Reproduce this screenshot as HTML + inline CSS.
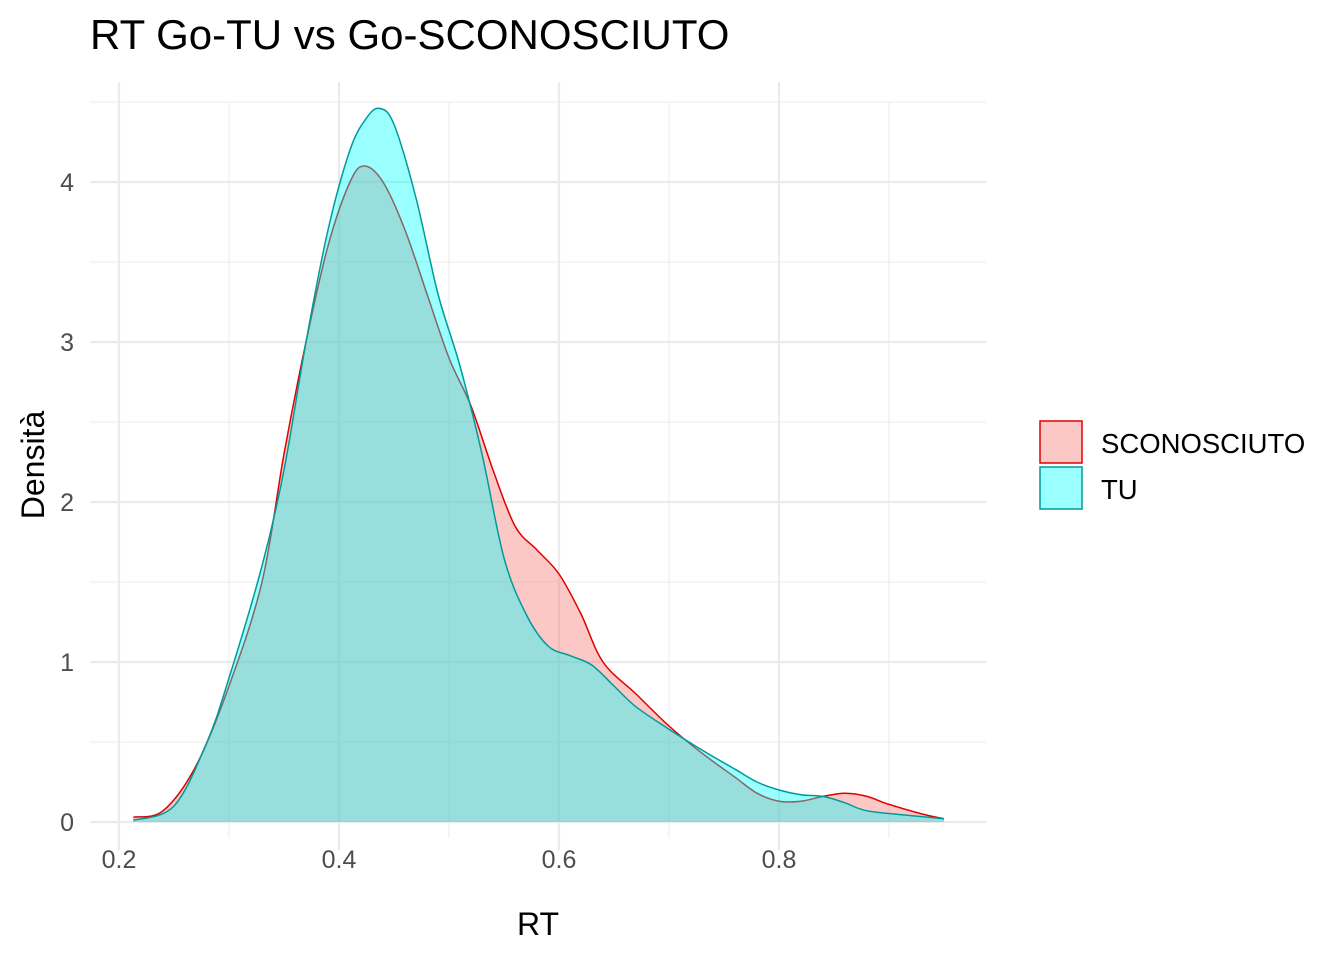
<!DOCTYPE html>
<html><head><meta charset="utf-8"><style>
body{margin:0;background:#fff;}
svg text{font-family:"Liberation Sans",sans-serif;}
</style></head><body>
<svg id="chart" width="1344" height="960" xmlns="http://www.w3.org/2000/svg">
<rect width="1344" height="960" fill="#fff"/>
<g id="grid"></g>
<g id="series"></g>
<g id="axes"></g>
<text x="90" y="49" font-size="42" fill="#000">RT Go-TU vs Go-SCONOSCIUTO</text>
<text x="538" y="935" font-size="32" text-anchor="middle">RT</text>
<text transform="translate(44,465) rotate(-90)" font-size="32" text-anchor="middle">Densità</text>
<g>
<rect x="1040" y="421" width="42" height="42" fill="#F8766D" fill-opacity="0.4" stroke="#E00000" stroke-width="1.5"/>
<text x="1101" y="453" font-size="27.5">SCONOSCIUTO</text>
<rect x="1040" y="467" width="42" height="42" fill="#00FFFF" fill-opacity="0.4" stroke="#009A9A" stroke-width="1.5"/>
<text x="1101" y="499" font-size="27.5">TU</text>
</g>
</svg>
<script>
const xTicks=[0.2,0.4,0.6,0.8];
const yTicks=[0,1,2,3,4];
const sconX=[0.213,0.24,0.27,0.30,0.33,0.35,0.37,0.39,0.41,0.423,0.44,0.46,0.48,0.50,0.52,0.54,0.56,0.58,0.60,0.62,0.64,0.67,0.70,0.73,0.76,0.78,0.80,0.82,0.84,0.86,0.88,0.90,0.93,0.95];
const sconY=[0.03,0.07,0.35,0.85,1.5,2.3,3.0,3.6,4.0,4.1,4.0,3.7,3.3,2.9,2.6,2.2,1.85,1.7,1.55,1.3,1.0,0.8,0.6,0.43,0.28,0.18,0.13,0.13,0.16,0.18,0.16,0.11,0.05,0.02];
const tuX=[0.213,0.25,0.28,0.30,0.33,0.35,0.37,0.39,0.41,0.425,0.437,0.45,0.47,0.49,0.51,0.53,0.55,0.57,0.59,0.61,0.63,0.65,0.67,0.70,0.73,0.76,0.78,0.80,0.82,0.84,0.86,0.88,0.92,0.95];
const tuY=[0.01,0.1,0.5,0.9,1.6,2.2,3.0,3.7,4.2,4.4,4.46,4.36,3.9,3.3,2.85,2.3,1.65,1.3,1.1,1.04,0.98,0.85,0.72,0.58,0.45,0.33,0.25,0.2,0.17,0.16,0.12,0.07,0.04,0.02];
const sx=v=>119+(v-0.2)*1100;
const sy=v=>822-v*160;
const NS="http://www.w3.org/2000/svg";
function mk(tag,attrs,parent){const e=document.createElementNS(NS,tag);for(const k in attrs)e.setAttribute(k,attrs[k]);parent.appendChild(e);return e;}
const grid=document.getElementById('grid'),axes=document.getElementById('axes'),ser=document.getElementById('series');
const L=90,R=986,T=102,B=822;
for(let i=0;i<xTicks.length;i++){const v=xTicks[i]+0.1;const gl=mk('line',{x1:sx(v),x2:sx(v),y1:T,y2:B+16,stroke:'#EBEBEB','stroke-width':1},grid);
}
for(const v of [0.5,1.5,2.5,3.5,4.5]){const gl=mk('line',{x1:L,x2:R,y1:sy(v),y2:sy(v),stroke:'#EBEBEB','stroke-width':1},grid);
}
for(const v of xTicks){const gl=mk('line',{x1:sx(v),x2:sx(v),y1:T-20,y2:B+28,stroke:'#EBEBEB','stroke-width':2.2},grid);

const t=mk('text',{x:sx(v),y:868,'font-size':25,fill:'#4D4D4D','text-anchor':'middle'},axes);t.textContent=v.toFixed(1);
}
for(const v of yTicks){const gl=mk('line',{x1:L,x2:R,y1:sy(v),y2:sy(v),stroke:'#EBEBEB','stroke-width':2.2},grid);

const t=mk('text',{x:74,y:sy(v)+9,'font-size':25,fill:'#4D4D4D','text-anchor':'end'},axes);t.textContent=String(v);
}
function pathFor(xs,ys){
const P=xs.map((x,i)=>[sx(x),sy(ys[i])]);
let d='M'+P[0][0].toFixed(1)+','+P[0][1].toFixed(1);
for(let i=0;i<P.length-1;i++){const p0=P[Math.max(0,i-1)],p1=P[i],p2=P[i+1],p3=P[Math.min(P.length-1,i+2)];
const c1=[p1[0]+(p2[0]-p0[0])/6,p1[1]+(p2[1]-p0[1])/6],c2=[p2[0]-(p3[0]-p1[0])/6,p2[1]-(p3[1]-p1[1])/6];
d+='C'+c1.map(n=>n.toFixed(1)).join(',')+' '+c2.map(n=>n.toFixed(1)).join(',')+' '+p2[0].toFixed(1)+','+p2[1].toFixed(1);}
return d;}
function area(xs,ys,fill,stroke,name){
const c=pathFor(xs,ys);
const d=c+'L'+sx(xs[xs.length-1])+','+sy(0)+'L'+sx(xs[0])+','+sy(0)+'Z';
const p=mk('path',{d:d,fill:fill,'fill-opacity':0.4,stroke:'none'},ser);

const l=mk('path',{d:c,fill:'none',stroke:stroke,'stroke-width':1.5,'stroke-linejoin':'round'},ser);
}
area(sconX,sconY,'#F8766D','#E00000','sconosciuto-density');
area(tuX,tuY,'#00FFFF','#009A9A','tu-density');
</script>
</body></html>
